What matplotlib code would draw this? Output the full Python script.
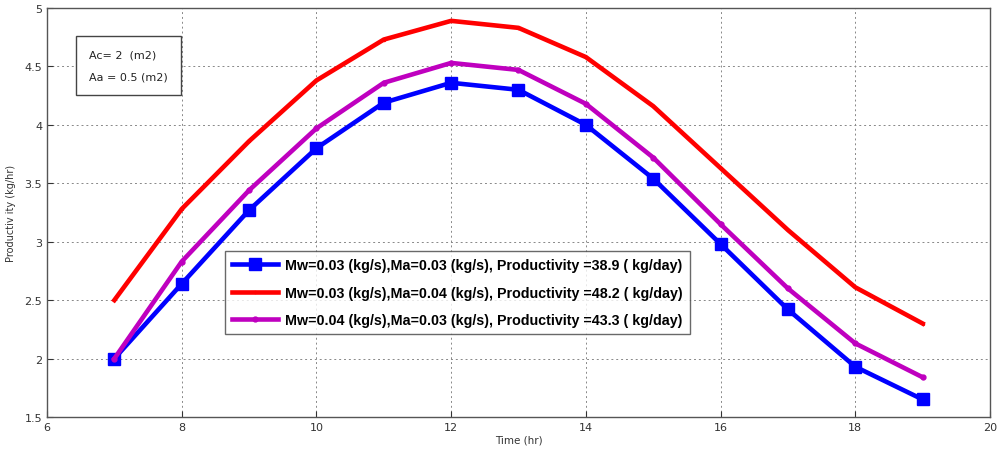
import matplotlib
matplotlib.use("Agg")
import matplotlib.pyplot as plt

hours = [7, 8, 9, 10, 11, 12, 13, 14, 15, 16, 17, 18, 19]
blue_vals = [2.0, 2.64, 3.27, 3.80, 4.19, 4.36, 4.30, 4.00, 3.54, 2.98, 2.42, 1.93, 1.65]
red_vals = [2.50, 3.28, 3.86, 4.38, 4.73, 4.89, 4.83, 4.58, 4.16, 3.63, 3.10, 2.61, 2.30]
mag_vals = [2.0, 2.83, 3.44, 3.97, 4.36, 4.53, 4.47, 4.18, 3.72, 3.15, 2.60, 2.13, 1.84]
labels = [
    "Mw=0.03 (kg/s),Ma=0.03 (kg/s), Productivity =38.9 ( kg/day)",
    "Mw=0.03 (kg/s),Ma=0.04 (kg/s), Productivity =48.2 ( kg/day)",
    "Mw=0.04 (kg/s),Ma=0.03 (kg/s), Productivity =43.3 ( kg/day)",
]
xticks = [6, 8, 10, 12, 14, 16, 18, 20]
yticks = [1.5, 2, 2.5, 3, 3.5, 4, 4.5, 5]

fig = plt.figure(figsize=(10.02, 4.56), dpi=100)
ax = fig.add_axes([47/1002, 1-418/456, (990-47)/1002, (418-9)/456])

ax.plot(hours, blue_vals, color="#0000ff", lw=3.3, marker="s", ms=9, label=labels[0], zorder=3)
ax.plot(hours, red_vals, color="#ff0000", lw=3.3, marker=".", ms=3, label=labels[1], zorder=3)
ax.plot(hours, mag_vals, color="#bf00bf", lw=3.3, marker="o", ms=3.5, label=labels[2], zorder=3)

ax.set_xlim(6, 20)
ax.set_ylim(1.5, 5)
ax.set_xticks(xticks)
ax.set_yticks(yticks)
ax.set_yticklabels(["1.5", "2", "2.5", "3", "3.5", "4", "4.5", "5"])
ax.tick_params(labelsize=8, colors="#333333", direction="in", length=4)
ax.grid(True, linestyle=(0, (2, 3)), color="#888888", lw=0.7)
for s in ax.spines.values():
    s.set_color("#555555")
    s.set_linewidth(1.0)
ax.set_xlabel("Time (hr)", fontsize=7.5, color="#333333", labelpad=2)
ax.set_ylabel("Productiv ity (kg/hr)", fontsize=7, color="#333333", labelpad=6)

leg = ax.legend(loc="upper left", bbox_to_anchor=((225-47)/943, 1-(252-9)/409),
                prop={"family": "Liberation Sans", "weight": "bold", "size": 10.3},
                frameon=True, fancybox=False, edgecolor="#444444", borderpad=0.5,
                handlelength=3.2, labelspacing=0.95, handletextpad=0.5, borderaxespad=0)
leg.get_frame().set_linewidth(1.0)

ax.text((78-47)/943 + 0.012, 1-(38-9)/409 - 0.03, "Ac= 2  (m2)\n\nAa = 0.5 (m2)", transform=ax.transAxes,
        fontsize=8, va="top", ha="left", color="#222222", linespacing=1.15,
        bbox=dict(boxstyle="square,pad=1.2", facecolor="white", edgecolor="#444444", lw=1.0))

fig.savefig("out.png", dpi=100)
